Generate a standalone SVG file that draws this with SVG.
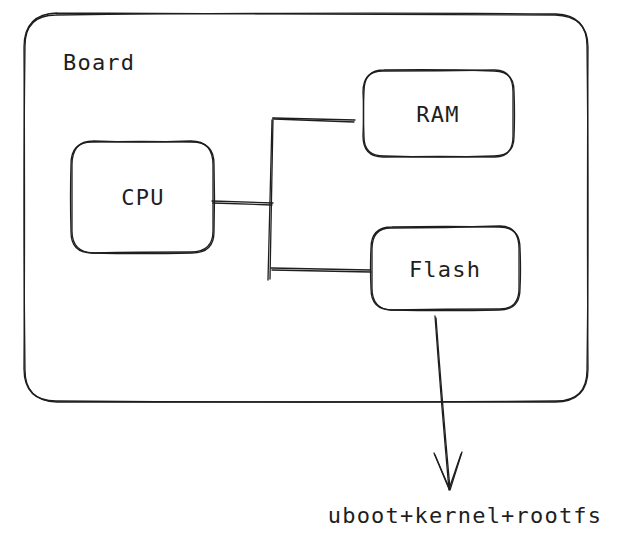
<svg xmlns="http://www.w3.org/2000/svg" width="636" height="538" viewBox="0 0 636 538">
<style>
.s{fill:none;stroke:#1e1e1e;stroke-width:1.3;stroke-linecap:round;stroke-linejoin:round}
.t{font-family:"DejaVu Sans Mono","Liberation Mono",monospace;font-size:22px;fill:#1e1e1e;letter-spacing:1.2px}
</style>
<rect width="636" height="538" fill="#fff"/>
<g id="board">
<path class="s" d="M56 15 Q340 12 556 14 Q587 15 587 46 Q589 220 587 370 Q587 401 556 401 Q300 403 56 401 Q25 401 25 370 Q23 200 25 46 Q25 15 56 15"/>
<path class="s" d="M57 13 Q330 15 555 15 Q588 16 588 47 Q587 230 588 369 Q588 402 555 402 Q310 401 57 402 Q24 401 24 369 Q25 210 24 47 Q24 14 57 13"/>
<text class="t" x="63" y="70">Board</text>
</g>
<g id="ram">
<path class="s" d="M384 70 Q440 69 494 71 Q514 71 514 91 Q515 115 514 137 Q514 156 494 156 Q440 158 384 156 Q364 156 364 137 Q363 112 364 91 Q364 70 384 70"/>
<path class="s" d="M383 71 Q440 71 495 70 Q513 70 513 92 Q513 116 513 136 Q513 157 495 157 Q440 156 383 157 Q363 157 363 136 Q364 110 363 92 Q363 71 383 71"/>
<text class="t" x="438" y="122" text-anchor="middle">RAM</text>
</g>
<g id="cpu">
<path class="s" d="M92 142 Q140 141 192 142 Q214 142 214 164 Q215 198 214 232 Q214 253 192 253 Q140 254 92 253 Q71 253 71 232 Q70 196 71 164 Q71 142 92 142"/>
<path class="s" d="M93 141 Q140 143 191 141 Q213 141 213 165 Q213 200 213 231 Q213 252 191 252 Q140 252 93 253 Q72 252 72 231 Q72 198 72 165 Q72 141 93 141"/>
<text class="t" x="143" y="205" text-anchor="middle">CPU</text>
</g>
<g id="flash">
<path class="s" d="M392 227 Q445 226 499 227 Q520 227 520 248 Q521 270 520 289 Q520 310 499 310 Q445 311 392 310 Q371 310 371 289 Q370 268 371 248 Q371 227 392 227"/>
<path class="s" d="M391 228 Q445 228 500 226 Q519 226 519 249 Q519 271 519 288 Q519 309 500 309 Q445 309 391 310 Q372 309 372 288 Q372 266 372 249 Q372 228 391 228"/>
<text class="t" x="445" y="277" text-anchor="middle">Flash</text>
</g>
<g id="output">
<text class="t" x="465" y="523" text-anchor="middle">uboot+kernel+rootfs</text>
</g>
<g id="connectors">
<path class="s" d="M273 118 L270 279"/>
<path class="s" d="M272 120 L268 280"/>
<path class="s" d="M273 118 L355 120"/>
<path class="s" d="M274 119 L354 122"/>
<path class="s" d="M212 201 L273 203"/>
<path class="s" d="M213 203 L272 205"/>
<path class="s" d="M271 268 L370 270"/>
<path class="s" d="M272 270 L371 272"/>
<path class="s" d="M435 316 Q441 400 449 490"/>
<path class="s" d="M436 318 Q442 400 450 489"/>
<path class="s" d="M434 453 L449 489 L461 454"/>
<path class="s" d="M435 455 L450 490 L462 452"/>
</g>
</svg>
